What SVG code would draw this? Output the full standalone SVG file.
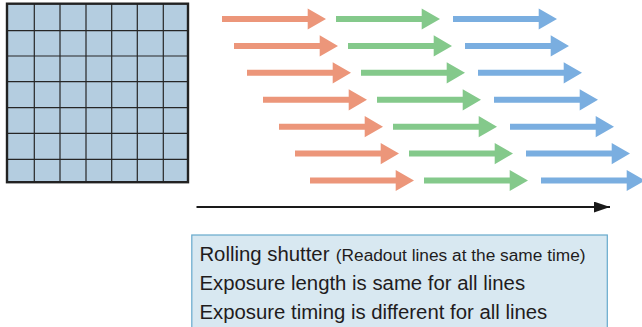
<svg xmlns="http://www.w3.org/2000/svg" xmlns:xlink="http://www.w3.org/1999/xlink" width="642" height="327" viewBox="0 0 642 327">
  <style>
    .cell-fill { fill: #b4cde0; }
    .grid-line { stroke: #262626; stroke-width: 1.2; fill: none; }
    .frame { fill: none; stroke: #222; stroke-width: 2.4; }
    .expose-a { fill: #ec967a; }
    .expose-b { fill: #84c98b; }
    .expose-c { fill: #7aaee0; }
    .time-axis { stroke: #1a1a1a; stroke-width: 2.2; fill: none; }
    .legend-box { fill: #d8e8f1; stroke: #66a9cc; stroke-width: 1.2; }
    .legend-text { font-family: "Liberation Sans", Arial, Helvetica, sans-serif; fill: #1f1c1d; font-size: 20.35px; }
    .legend-note { font-size: 17.3px; }
  </style>
  <defs>
    <!-- one exposure/readout segment: 104 px long, anchored at its tail on the centre line -->
    <path id="seg" d="M0,-3 H85.7 V-10.6 L104,0 L85.7,10.6 V3 H0 Z"/>
    <marker id="axis-head" markerWidth="16" markerHeight="11" refX="16" refY="5.4" orient="auto" markerUnits="userSpaceOnUse">
      <path d="M0,0 L16,5.4 L0,10.8 Z" fill="#1a1a1a"/>
    </marker>
  </defs>

  <!-- image sensor: 7 x 7 pixel grid -->
  <g id="sensor">
    <rect class="cell-fill" x="7" y="3.7" width="181" height="178.5"/>
    <path class="grid-line" d="M34.3,3.7V182.2 M60,3.7V182.2 M86,3.7V182.2 M111.7,3.7V182.2 M137.3,3.7V182.2 M163.3,3.7V182.2
                               M7,30.7H188 M7,56H188 M7,81.7H188 M7,107.7H188 M7,133.3H188 M7,159.3H188"/>
    <rect class="frame" x="7" y="3.7" width="181" height="178.5"/>
  </g>

  <!-- per-line timing: each row shifts right as the shutter rolls down -->
  <g id="rows">
    <g id="row1" transform="translate(222,19)">
      <use xlink:href="#seg" class="expose-a"/>
      <use xlink:href="#seg" class="expose-b" x="114"/>
      <use xlink:href="#seg" class="expose-c" x="231"/>
    </g>
    <g id="row2" transform="translate(234,45.9)">
      <use xlink:href="#seg" class="expose-a"/>
      <use xlink:href="#seg" class="expose-b" x="114"/>
      <use xlink:href="#seg" class="expose-c" x="231"/>
    </g>
    <g id="row3" transform="translate(247,72.8)">
      <use xlink:href="#seg" class="expose-a"/>
      <use xlink:href="#seg" class="expose-b" x="114"/>
      <use xlink:href="#seg" class="expose-c" x="231"/>
    </g>
    <g id="row4" transform="translate(263,99.8)">
      <use xlink:href="#seg" class="expose-a"/>
      <use xlink:href="#seg" class="expose-b" x="114"/>
      <use xlink:href="#seg" class="expose-c" x="231"/>
    </g>
    <g id="row5" transform="translate(279,126.7)">
      <use xlink:href="#seg" class="expose-a"/>
      <use xlink:href="#seg" class="expose-b" x="114"/>
      <use xlink:href="#seg" class="expose-c" x="231"/>
    </g>
    <g id="row6" transform="translate(295,153.6)">
      <use xlink:href="#seg" class="expose-a"/>
      <use xlink:href="#seg" class="expose-b" x="114"/>
      <use xlink:href="#seg" class="expose-c" x="231"/>
    </g>
    <g id="row7" transform="translate(310,180.5)">
      <use xlink:href="#seg" class="expose-a"/>
      <use xlink:href="#seg" class="expose-b" x="114"/>
      <use xlink:href="#seg" class="expose-c" x="231"/>
    </g>
  </g>

  <!-- time axis -->
  <g id="connectors">
    <line class="time-axis" x1="196.5" y1="207" x2="610" y2="207" marker-end="url(#axis-head)"/>
  </g>

  <!-- caption box -->
  <g id="legend">
    <rect class="legend-box" x="191.8" y="235" width="415.5" height="100"/>
    <text class="legend-text" x="199.4" y="261.3">Rolling shutter</text>
    <text class="legend-text legend-note" x="335.8" y="261.3">(Readout lines at the same time)</text>
    <text class="legend-text" x="199.4" y="290">Exposure length is same for all lines</text>
    <text class="legend-text" x="199.4" y="318.5">Exposure timing is different for all lines</text>
  </g>
</svg>
